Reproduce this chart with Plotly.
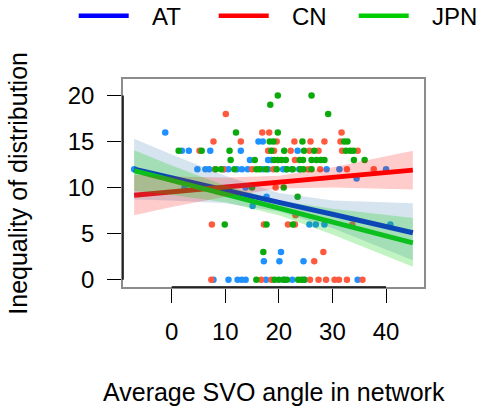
import plotly.graph_objects as go

# ---------------- data ----------------
groups = ["AT", "CN", "JPN"]
x_ticks = [0, 10, 20, 30, 40]
y_ticks = [0, 5, 10, 15, 20]

at_x = [-1.2, 16.2, 17.0, 1.9, 3.2, 7.2, 12.9, 23.5, 14.6, 18.0, 18.6,
        -7.0, 4.8, 6.3, 7.0, 9.8, 10.6, 12.2, 13.1, 14.2, 17.0, 18.0, 20.8, 21.4, 22.4, 23.8, 28.9, 31.3, 40.0,
        34.5, 2.4, 13.8, 17.7, 15.1, 25.7, 26.9, 28.5, 40.8, 20.4, 17.2, 20.1, 24.6,
        7.8, 10.6, 12.3, 13.1, 13.8, 17.6, 20.8, 22.5, 24.8, 34.7]
at_y = [16, 15, 15, 14, 14, 14, 14, 14, 13, 13, 13,
        12, 12, 12, 12, 12, 12, 12, 12, 12, 12, 12, 12, 12, 12, 12, 12, 12, 12,
        11, 10, 10, 9, 8, 6, 6, 6, 6, 3, 2, 2, 2,
        0, 0, 0, 0, 0, 0, 0, 0, 0, 0]

cn_x = [10.1, 16.9, 18.2, 31.7, 7.8, 12.9, 19.6, 22.9, 25.9, 28.5, 31.5,
        5.2, 18.0, 19.1, 22.2, 25.7, 27.4, 31.8, 34.7, 23.0,
        8.1, 9.6, 15.0, 19.0, 25.5, 27.7, 32.7, 37.7,
        19.4, 14.6, 23.1, 7.5, 17.2, 21.7, 23.0, 33.7, 28.3, 26.6,
        7.4, 16.7, 18.6, 25.8, 27.4, 28.8, 30.4, 31.2, 32.7, 35.6]
cn_y = [18, 16, 16, 16, 15, 15, 15, 15, 15, 15, 15,
        14, 14, 14, 14, 14, 14, 14, 14, 13,
        12, 12, 12, 12, 12, 12, 12, 12,
        10, 9, 7, 6, 6, 6, 6, 6, 3, 2,
        0, 0, 0, 0, 0, 0, 0, 0, 0, 0]

jpn_x = [19.8, 26.1, 18.4, 29.2, 12.0, 19.8, 18.3, 19.0, 24.4, 32.2, 32.8,
         1.3, 5.6, 10.8, 18.6, 21.0, 24.7, 26.6, 32.5, 33.3, 33.9,
         11.0, 15.5, 19.1, 19.8, 20.5, 21.3, 23.9, 24.5, 26.1, 27.0, 27.8, 28.5, 34.0, 36.0,
         8.2, 9.2, 11.7, 15.8, 16.4, 17.6, 19.6, 21.5, 22.6, 24.0, 24.6, 26.1,
         15.0, 20.9, 23.5, 9.9, 17.7, 22.6, 17.1,
         15.8, 19.2, 20.0, 21.0, 21.5, 23.6, 24.2, 24.7]
jpn_y = [20, 20, 19, 18, 16, 16, 15, 15, 15, 15, 15,
         14, 14, 14, 14, 14, 14, 14, 14, 14, 14,
         13, 13, 13, 13, 13, 13, 13, 13, 13, 13, 13, 13, 13, 13,
         12, 12, 12, 12, 12, 12, 12, 12, 12, 12, 12, 12,
         10, 10, 9, 6, 6, 6, 3,
         0, 0, 0, 0, 0, 0, 0, 0]

# fitted lines and confidence bands
band_x = [-7, 0, 10, 20, 30, 45]
at_fit = [12.0, 11.1, 9.8, 8.4, 7.1, 5.1]
at_lo = [8.7, 8.6, 8.3, 7.4, 5.6, 2.1]
at_hi = [15.3, 13.6, 11.3, 9.4, 8.6, 8.3]
cn_fit = [9.17, 9.54, 10.06, 10.59, 11.11, 11.9]
cn_lo = [7.0, 7.9, 9.0, 9.9, 10.0, 9.8]
cn_hi = [11.4, 11.2, 11.1, 11.3, 12.2, 14.0]
jpn_fit = [11.85, 10.8, 9.3, 7.8, 6.3, 4.0]
jpn_lo = [9.65, 9.2, 8.4, 7.0, 4.9, 1.4]
jpn_hi = [14.05, 12.4, 10.2, 8.6, 7.7, 6.7]

x_range = [-9.08, 47.08]
y_range = [-0.8, 21.8]

# ---------------- styling ----------------
FONT = "Liberation Sans, Arial, sans-serif"
FS = 24
FS_TITLE = 25
point_col = {"AT": "#1E90FF", "CN": "#FF5A40", "JPN": "#0AAA0A"}
line_col = {"AT": "#0000FF", "CN": "#FF0000", "JPN": "#00CD00"}
band_col = {"AT": "rgba(70,130,180,0.22)", "CN": "rgba(255,0,0,0.2)", "JPN": "rgba(0,205,0,0.24)"}

pts = {"AT": (at_x, at_y), "CN": (cn_x, cn_y), "JPN": (jpn_x, jpn_y)}
fits = {"AT": (at_fit, at_lo, at_hi), "CN": (cn_fit, cn_lo, cn_hi), "JPN": (jpn_fit, jpn_lo, jpn_hi)}

W, H = 480, 410
L, R, T, B = 123.3, 424.3, 79.3, 287.3


def px2paper(px, py):
    return (px - L) / (R - L), (B - py) / (B - T)


fig = go.Figure()

for g in groups:
    x, y = pts[g]
    fig.add_trace(go.Scatter(x=x, y=y, mode="markers", showlegend=False,
                             marker=dict(color=point_col[g], size=6.5, line=dict(width=0)),
                             hoverinfo="skip"))
for g in groups:
    fit, lo, hi = fits[g]
    fig.add_trace(go.Scatter(x=band_x, y=fit, mode="lines", showlegend=False,
                             line=dict(color=line_col[g], width=5), hoverinfo="skip"))
for g in groups:
    fit, lo, hi = fits[g]
    fig.add_trace(go.Scatter(x=band_x + band_x[::-1], y=hi + lo[::-1], mode="lines",
                             fill="toself", fillcolor=band_col[g], line=dict(width=0),
                             showlegend=False, hoverinfo="skip"))

# axis lines (black, first to last tick) like base R
fig.add_shape(type="line", xref="x", yref="paper", x0=x_ticks[0], x1=x_ticks[-1], y0=0, y1=0,
              line=dict(color="black", width=1.5), layer="above")
fig.add_shape(type="line", xref="paper", yref="y", x0=0, x1=0, y0=y_ticks[0], y1=y_ticks[-1],
              line=dict(color="black", width=1.5), layer="above")

# manual legend
leg_items = [("AT", 79, 129, 150), ("CN", 219, 269, 290), ("JPN", 359, 409, 430)]
for name, lx0, lx1, tx in leg_items:
    ax0, ay = px2paper(lx0, 16)
    ax1, _ = px2paper(lx1, 16)
    fig.add_shape(type="line", xref="paper", yref="paper", x0=ax0, x1=ax1, y0=ay, y1=ay,
                  line=dict(color=line_col[name], width=4.5))
    tx_p, ty_p = px2paper(tx, 17)
    fig.add_annotation(x=tx_p, y=ty_p, xref="paper", yref="paper", text=name, showarrow=False,
                       xanchor="left", yanchor="middle", font=dict(family=FONT, size=FS, color="black"))

# axis titles
xt_x, xt_y = px2paper(273.8, 392)
fig.add_annotation(x=xt_x, y=xt_y, xref="paper", yref="paper", text="Average SVO angle in network",
                   showarrow=False, xanchor="center", yanchor="middle",
                   font=dict(family=FONT, size=FS_TITLE, color="black"))
yt_x, yt_y = px2paper(18, 183.3)
fig.add_annotation(x=yt_x, y=yt_y, xref="paper", yref="paper", text="Inequality of distribution",
                   showarrow=False, xanchor="center", yanchor="middle", textangle=-90,
                   font=dict(family=FONT, size=FS_TITLE, color="black"))

axis_common = dict(showgrid=False, zeroline=False, showline=True, mirror=True,
                   linecolor="#8c8c8c", linewidth=1.5, ticks="outside", ticklen=14,
                   tickwidth=1.3, tickcolor="black", ticklabelstandoff=8,
                   tickfont=dict(family=FONT, size=FS, color="black"))

fig.update_layout(
    width=W, height=H,
    margin=dict(l=L, r=W - R, t=T, b=H - B, pad=0),
    paper_bgcolor="white", plot_bgcolor="white",
    showlegend=False,
    xaxis=dict(range=x_range, tickvals=x_ticks, **axis_common),
    yaxis=dict(range=y_range, tickvals=y_ticks, **axis_common),
)

fig.write_html("out.html")
